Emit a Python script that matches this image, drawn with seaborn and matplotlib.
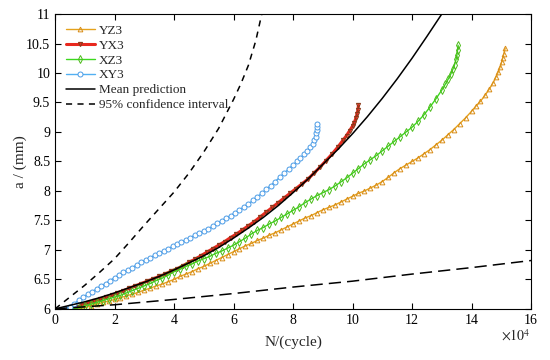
import numpy as np
import pandas as pd
import matplotlib
matplotlib.use('Agg')
import matplotlib.pyplot as plt
import seaborn as sns

# 数据 (N 以 1e4 cycle 为单位, a 单位 mm), 每个点为 (N, a)
yz3 = [(0.8, 6.00), (1.0, 6.02), (1.2, 6.05), (1.4, 6.08), (1.6, 6.11), (1.8, 6.13), (2.0, 6.16), (2.2, 6.19),
       (2.4, 6.22), (2.6, 6.25), (2.8, 6.28), (3.0, 6.32), (3.2, 6.35), (3.4, 6.39), (3.6, 6.42), (3.8, 6.46),
       (4.0, 6.50), (4.2, 6.55), (4.4, 6.59), (4.6, 6.63), (4.8, 6.68), (5.0, 6.72), (5.2, 6.77), (5.4, 6.82),
       (5.6, 6.87), (5.8, 6.92), (6.0, 6.97), (6.2, 7.02), (6.4, 7.07), (6.6, 7.11), (6.8, 7.16), (7.0, 7.20),
       (7.2, 7.25), (7.4, 7.29), (7.6, 7.34), (7.8, 7.39), (8.0, 7.44), (8.2, 7.49), (8.4, 7.54), (8.6, 7.58),
       (8.8, 7.63), (9.0, 7.68), (9.2, 7.72), (9.4, 7.76), (9.6, 7.81), (9.8, 7.86), (10.0, 7.91), (10.2, 7.96),
       (10.4, 8.00), (10.6, 8.05), (10.8, 8.10), (11.0, 8.16), (11.2, 8.23), (11.4, 8.31), (11.6, 8.38),
       (11.8, 8.44), (12.0, 8.50), (12.2, 8.56), (12.4, 8.63), (12.6, 8.70), (12.8, 8.78), (13.0, 8.86),
       (13.2, 8.95), (13.4, 9.04), (13.6, 9.14), (13.8, 9.24), (14.0, 9.35), (14.15, 9.44), (14.3, 9.52),
       (14.45, 9.62), (14.6, 9.73), (14.72, 9.83), (14.82, 9.93), (14.9, 10.02), (14.96, 10.10), (15.01, 10.18),
       (15.05, 10.25), (15.09, 10.33), (15.13, 10.42)]

yx3 = [(0.5, 6.00), (0.7, 6.03), (0.9, 6.06), (1.1, 6.10), (1.3, 6.13), (1.5, 6.16), (1.7, 6.20), (1.9, 6.23),
       (2.1, 6.27), (2.3, 6.31), (2.5, 6.35), (2.7, 6.39), (2.9, 6.43), (3.1, 6.47), (3.3, 6.51), (3.5, 6.55),
       (3.7, 6.59), (3.9, 6.64), (4.1, 6.68), (4.3, 6.73), (4.5, 6.79), (4.7, 6.84), (4.9, 6.90), (5.1, 6.96),
       (5.3, 7.02), (5.5, 7.08), (5.7, 7.14), (5.9, 7.21), (6.1, 7.27), (6.3, 7.34), (6.5, 7.41), (6.7, 7.48),
       (6.9, 7.56), (7.1, 7.64), (7.3, 7.72), (7.5, 7.80), (7.7, 7.88), (7.9, 7.96), (8.1, 8.04), (8.3, 8.12),
       (8.5, 8.20), (8.7, 8.30), (8.9, 8.40), (9.1, 8.51), (9.3, 8.62), (9.5, 8.74), (9.68, 8.86), (9.8, 8.94),
       (9.9, 9.02), (10.0, 9.10), (10.06, 9.16), (10.11, 9.23), (10.15, 9.30), (10.18, 9.37), (10.2, 9.45)]

xz3 = [(0.6, 6.00), (0.8, 6.02), (1.0, 6.05), (1.2, 6.08), (1.4, 6.11), (1.6, 6.14), (1.8, 6.17), (2.0, 6.20),
       (2.2, 6.23), (2.4, 6.27), (2.6, 6.31), (2.8, 6.35), (3.0, 6.39), (3.2, 6.43), (3.4, 6.48), (3.6, 6.52),
       (3.8, 6.57), (4.0, 6.63), (4.2, 6.67), (4.4, 6.72), (4.6, 6.76), (4.8, 6.81), (5.0, 6.85), (5.2, 6.89),
       (5.4, 6.94), (5.6, 6.98), (5.8, 7.03), (6.0, 7.08), (6.2, 7.14), (6.4, 7.20), (6.6, 7.27), (6.8, 7.33),
       (7.0, 7.38), (7.2, 7.44), (7.4, 7.49), (7.6, 7.55), (7.8, 7.61), (8.0, 7.67), (8.2, 7.73), (8.4, 7.80),
       (8.6, 7.86), (8.8, 7.92), (9.0, 7.97), (9.2, 8.02), (9.4, 8.08), (9.6, 8.15), (9.8, 8.22), (10.0, 8.30),
       (10.2, 8.38), (10.4, 8.46), (10.6, 8.53), (10.8, 8.60), (11.0, 8.68), (11.2, 8.76), (11.4, 8.84),
       (11.6, 8.92), (11.8, 9.00), (12.0, 9.08), (12.2, 9.18), (12.4, 9.29), (12.6, 9.42), (12.8, 9.56),
       (13.0, 9.71), (13.12, 9.81), (13.22, 9.90), (13.3, 9.98), (13.37, 10.06), (13.43, 10.14), (13.48, 10.23),
       (13.51, 10.31), (13.53, 10.39), (13.55, 10.47)]

xy3 = [(0.35, 6.00), (0.5, 6.04), (0.65, 6.09), (0.8, 6.15), (0.95, 6.20), (1.1, 6.25), (1.25, 6.29), (1.4, 6.34),
       (1.55, 6.39), (1.7, 6.43), (1.85, 6.48), (2.0, 6.53), (2.15, 6.57), (2.3, 6.62), (2.45, 6.66), (2.6, 6.70),
       (2.75, 6.75), (2.9, 6.79), (3.05, 6.83), (3.2, 6.87), (3.35, 6.91), (3.5, 6.95), (3.65, 6.98), (3.8, 7.02),
       (3.95, 7.06), (4.1, 7.10), (4.25, 7.13), (4.4, 7.17), (4.55, 7.21), (4.7, 7.25), (4.85, 7.29), (5.0, 7.32),
       (5.15, 7.36), (5.3, 7.40), (5.45, 7.45), (5.6, 7.49), (5.75, 7.54), (5.9, 7.58), (6.05, 7.63), (6.2, 7.68),
       (6.35, 7.73), (6.5, 7.78), (6.65, 7.84), (6.8, 7.90), (6.95, 7.96), (7.1, 8.03), (7.25, 8.09), (7.4, 8.16),
       (7.55, 8.23), (7.7, 8.30), (7.85, 8.37), (8.0, 8.44), (8.13, 8.50), (8.25, 8.56), (8.37, 8.62), (8.48, 8.68),
       (8.58, 8.74), (8.66, 8.80), (8.72, 8.86), (8.76, 8.92), (8.78, 8.98), (8.8, 9.04), (8.8, 9.09), (8.8, 9.13)]

mean_pred = [(0, 6.0), (0.5, 6.06), (1, 6.12), (1.5, 6.19), (2, 6.27), (2.5, 6.36), (3, 6.45), (3.5, 6.55),
             (4, 6.66), (4.5, 6.78), (5, 6.9), (5.5, 7.04), (6, 7.2), (6.5, 7.37), (7, 7.55), (7.5, 7.75),
             (8, 7.97), (8.5, 8.2), (9, 8.45), (9.5, 8.7), (10, 8.97), (10.5, 9.26), (11, 9.57), (11.5, 9.9),
             (12, 10.25), (12.5, 10.62), (13, 11.0)]

upper_ci = [(0, 6.0), (0.5, 6.2), (1, 6.4), (1.5, 6.62), (2, 6.85), (2.5, 7.13), (3, 7.42), (3.5, 7.7),
            (4, 7.98), (4.5, 8.3), (5, 8.66), (5.5, 9.06), (6, 9.55), (6.25, 9.82), (6.5, 10.13), (6.75, 10.55),
            (6.95, 11.0)]

lower_ci = [(0, 6.0), (2, 6.07), (4, 6.16), (6, 6.26), (8, 6.37), (10, 6.47), (12, 6.59), (14, 6.70), (16, 6.82)]

sns.set_theme(style='ticks')
plt.rcParams['font.family'] = ['Liberation Serif', 'DejaVu Serif']
plt.rcParams['mathtext.fontset'] = 'stix'

fig = plt.figure(figsize=(5.5, 3.6), dpi=100)
ax = fig.add_axes([0.1, 0.142, 0.8655, 0.819])


def to_df(pts):
    return pd.DataFrame(pts, columns=['N', 'a'])


series = [
    ('YZ3', yz3, dict(color='#E5A21C', marker='^', markersize=3.4, mfc='none', mec='#D98E1A', mew=0.7, lw=1.0)),
    ('YX3', yx3, dict(color='#E8281E', marker='v', markersize=3.0, mfc='none', mec='#8B3A1A', mew=0.8, lw=2.2)),
    ('XZ3', xz3, dict(color='#3CD81E', marker='d', markersize=3.6, mfc='none', mec='#4DBB1C', mew=0.7, lw=1.0)),
    ('XY3', xy3, dict(color='#52B0F2', marker='o', markersize=3.6, mfc='white', mec='#4A9BE6', mew=0.7, lw=1.0)),
]
for name, pts, kw in series:
    sns.lineplot(data=to_df(pts), x='N', y='a', ax=ax, sort=False, estimator=None, label=name, **kw)

sns.lineplot(data=to_df(mean_pred), x='N', y='a', ax=ax, color='black', lw=1.1, label='Mean prediction')
sns.lineplot(data=to_df(upper_ci), x='N', y='a', ax=ax, color='black', lw=1.1, linestyle=(0, (4, 3.5)),
             label='95% confidence interval')
sns.lineplot(data=to_df(lower_ci), x='N', y='a', ax=ax, color='black', lw=1.1, linestyle=(0, (8, 4)))

ax.set_xlim(0, 16)
ax.set_ylim(6, 11)
ax.set_xticks(range(0, 17, 2))
ax.set_yticks(np.arange(6, 11.01, 0.5))
ax.set_yticklabels(['6', '6.5', '7', '7.5', '8', '8.5', '9', '9.5', '10', '10.5', '11'])
ax.tick_params(direction='in', top=True, right=True, labelsize=10, length=4, width=0.8, colors='black')
for s in ax.spines.values():
    s.set_visible(True)
    s.set_linewidth(0.8)
    s.set_color('black')

ax.set_xlabel('N/(cycle)', fontsize=11, labelpad=6)
ax.set_ylabel('a / (mm)', fontsize=11, labelpad=-1)
ax.text(1.0, -0.065, r'$\times10^4$', transform=ax.transAxes, ha='right', va='top', fontsize=10)

leg = ax.legend(loc='upper left', frameon=False, fontsize=9.5, handlelength=2.2, handletextpad=0.3,
                labelspacing=0.2, borderaxespad=0.4)

plt.savefig('out.png', dpi=100)
